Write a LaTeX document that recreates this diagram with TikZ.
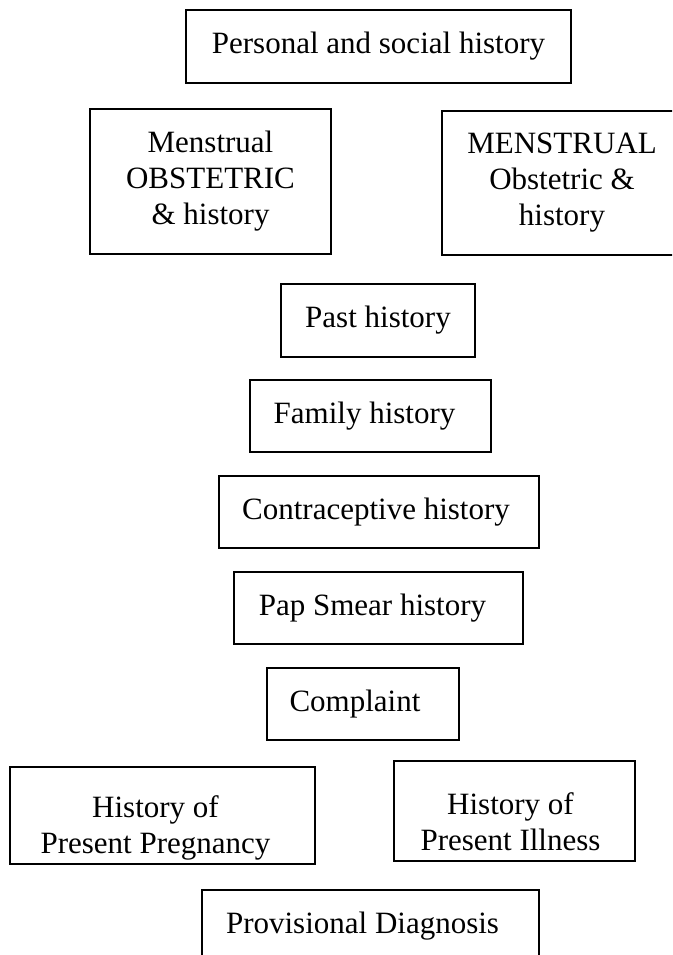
\documentclass[tikz,border=0pt]{standalone}
\usepackage{fontspec}
\setmainfont{Liberation Serif}

\begin{document}
\begin{tikzpicture}[
  x=1pt, y=-1pt,
  box/.style={
    draw,
    line width=1.5pt,
    rectangle,
    inner sep=0pt
  },
  lbl/.style={
    inner sep=0pt,
    align=center,
    font=\fontsize{31}{36}\selectfont
  },
]
\path[use as bounding box, clip] (0,0) rectangle (672,955);

\node[box, minimum width=385pt, minimum height=73pt] (personal) at (378.5,46.5) {};
\node[lbl] (personal-t) at (personal) {Personal and social history};

\node[box, minimum width=241pt, minimum height=145pt] (mensL) at (210.5,181.5) {};
\node[lbl] (mensL-t) at (mensL) {Menstrual\\OBSTETRIC\\\& history};

\node[box, minimum width=240pt, minimum height=144pt] (mensR) at (562,183) {};
\node[lbl] (mensR-t) at (mensR) {MENSTRUAL\\Obstetric \&\\history};

\node[box, minimum width=194pt, minimum height=73pt] (past) at (378,320.5) {};
\node[lbl] (past-t) at (past) {Past history};

\node[box, minimum width=241pt, minimum height=72pt] (family) at (370.5,416) {};
\node[lbl] (family-t) at ([xshift=-6pt]family.center) {Family history};

\node[box, minimum width=320pt, minimum height=72pt] (contra) at (379,512) {};
\node[lbl] (contra-t) at ([xshift=-3pt]contra.center) {Contraceptive history};

\node[box, minimum width=289pt, minimum height=72pt] (pap) at (378.5,608) {};
\node[lbl] (pap-t) at ([xshift=-6pt]pap.center) {Pap Smear history};

\node[box, minimum width=192pt, minimum height=72pt] (complaint) at (363,704) {};
\node[lbl] (complaint-t) at ([xshift=-8pt]complaint.center) {Complaint};

\node[box, minimum width=305pt, minimum height=97pt] (pregnancy) at (162.5,815.5) {};
\node[lbl] (pregnancy-t) at ([xshift=-7pt,yshift=-12pt]pregnancy.center) {History of\\Present Pregnancy};

\node[box, minimum width=241pt, minimum height=100pt] (illness) at (514.5,811) {};
\node[lbl] (illness-t) at ([xshift=-4pt,yshift=-11pt]illness.center) {History of\\Present Illness};

\node[box, minimum width=337pt, minimum height=72pt] (provisional) at (370.5,926) {};
\node[lbl] (provisional-t) at ([xshift=-8pt]provisional.center) {Provisional Diagnosis};
\end{tikzpicture}
\end{document}
